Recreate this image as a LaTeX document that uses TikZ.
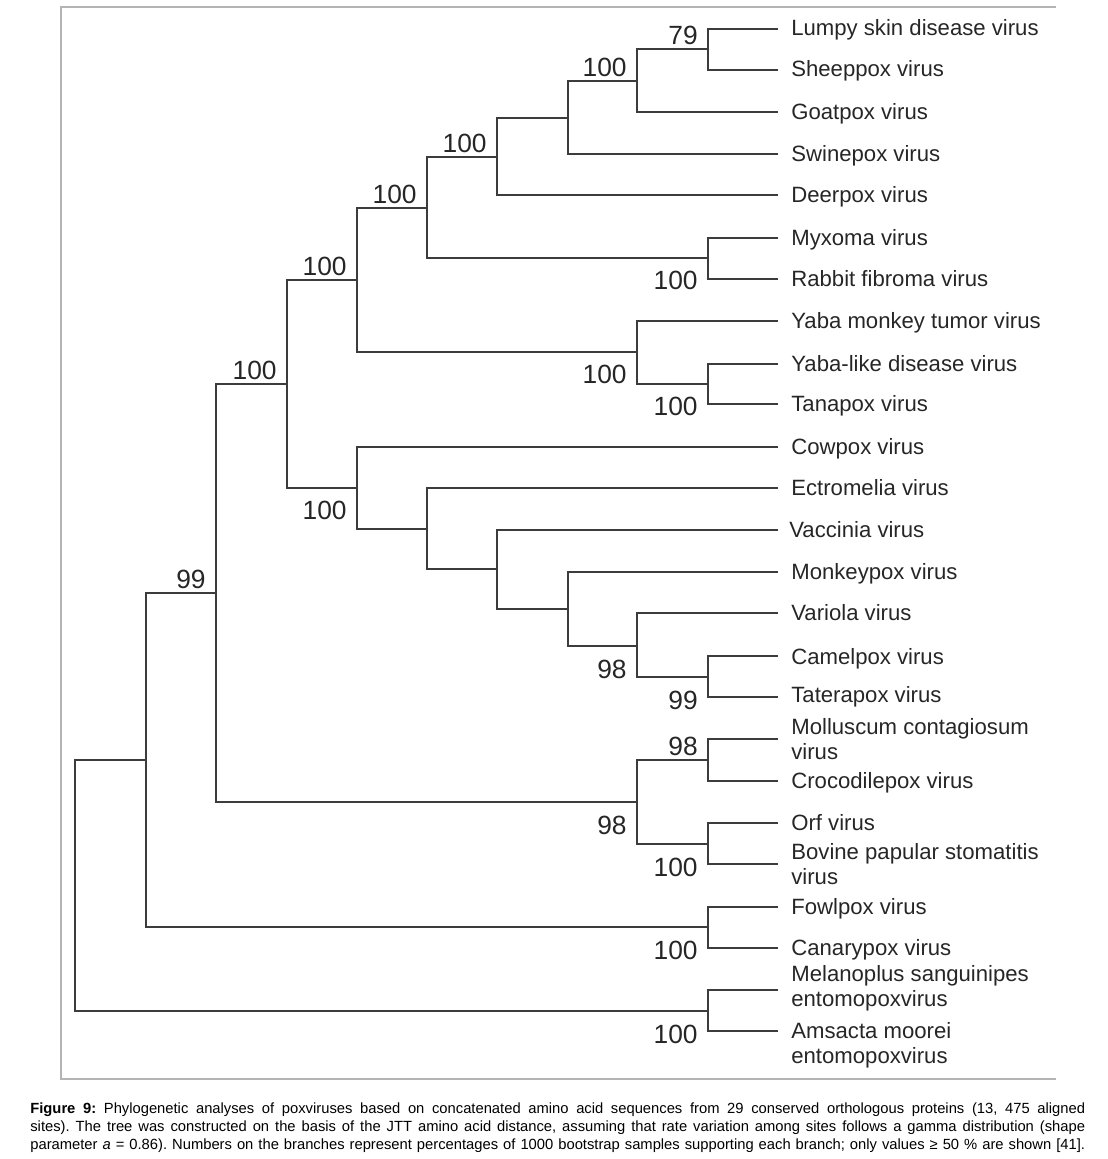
\documentclass[tikz,border=0pt]{standalone}
\usepackage{fontspec}
\setmainfont{Liberation Sans}
\usetikzlibrary{positioning}
\usepackage{xcolor}

\definecolor{branchgray}{HTML}{3C3C3C}
\definecolor{labelgray}{HTML}{262626}
\definecolor{framegray}{HTML}{B4B4B4}

\tikzset{
	branch/.style={draw=branchgray, line width=1.1pt},
	leaf/.style={anchor=base west, inner sep=0pt, text=labelgray, align=left,
		font=\fontsize{12.6}{14.2}\selectfont},
	boot/.style={inner sep=0pt, text=labelgray, font=\fontsize{15}{15}\selectfont},
	bootup/.style={boot, anchor=base east, xshift=-0.2cm, yshift=0.09cm},
	bootdown/.style={boot, anchor=base east, xshift=-0.2cm, yshift=-0.64cm},
	caption/.style={anchor=base west, inner sep=0pt, text width=21.1cm, align=justify,
		font=\fontsize{8.4}{10.25}\selectfont}
}

\begin{document}
\begin{tikzpicture}[x=0.02cm, y=-0.02cm]
	\useasboundingbox (0,0) rectangle (1108,1159);
	
	% frame
	\draw[framegray, line width=1.1pt] (1056,7) -- (61,7) -- (61,1079) -- (1056,1079);
	
	% leaf tips
	\coordinate (lsd) at (778,29);
	\coordinate (sheep) at (778,70);
	\coordinate (goat) at (778,112);
	\coordinate (swine) at (778,154);
	\coordinate (deer) at (778,195);
	\coordinate (myx) at (778,238);
	\coordinate (rfv) at (778,279);
	\coordinate (ymt) at (778,321);
	\coordinate (yld) at (778,364);
	\coordinate (tana) at (778,404);
	\coordinate (cow) at (778,447);
	\coordinate (ectro) at (778,488);
	\coordinate (vacc) at (778,530);
	\coordinate (monk) at (778,572);
	\coordinate (vario) at (778,613);
	\coordinate (camel) at (778,656);
	\coordinate (tatera) at (778,697);
	\coordinate (mollus) at (778,739);
	\coordinate (croco) at (778,781);
	\coordinate (orf) at (778,823);
	\coordinate (bpsv) at (778,864);
	\coordinate (fowl) at (778,907);
	\coordinate (canary) at (778,948);
	\coordinate (melano) at (778,990);
	\coordinate (amsacta) at (778,1031);
	
	% leaf names (two-line names sit on their last baseline)
	\node[leaf] (lsd-t) at (791,36) {Lumpy skin disease virus};
	\node[leaf] (sheep-t) at (791,77) {Sheeppox virus};
	\node[leaf] (goat-t) at (791,119) {Goatpox virus};
	\node[leaf] (swine-t) at (791,161) {Swinepox virus};
	\node[leaf] (deer-t) at (791,202) {Deerpox virus};
	\node[leaf] (myx-t) at (791,245) {Myxoma virus};
	\node[leaf] (rfv-t) at (791,286) {Rabbit fibroma virus};
	\node[leaf] (ymt-t) at (791,328) {Yaba monkey tumor virus};
	\node[leaf] (yld-t) at (791,371) {Yaba-like disease virus};
	\node[leaf] (tana-t) at (791,411) {Tanapox virus};
	\node[leaf] (cow-t) at (791,454) {Cowpox virus};
	\node[leaf] (ectro-t) at (791,495) {Ectromelia virus};
	\node[leaf] (vacc-t) at (789,537) {Vaccinia virus};
	\node[leaf] (monk-t) at (791,579) {Monkeypox virus};
	\node[leaf] (vario-t) at (791,620) {Variola virus};
	\node[leaf] (camel-t) at (791,664) {Camelpox virus};
	\node[leaf] (tatera-t) at (791,702) {Taterapox virus};
	\node[leaf] (mollus-t) at (791,759) {Molluscum contagiosum\\virus};
	\node[leaf] (croco-t) at (791,788) {Crocodilepox virus};
	\node[leaf] (orf-t) at (791,830) {Orf virus};
	\node[leaf] (bpsv-t) at (791,884) {Bovine papular stomatitis\\virus};
	\node[leaf] (fowl-t) at (791,914) {Fowlpox virus};
	\node[leaf] (canary-t) at (791,955) {Canarypox virus};
	\node[leaf] (melano-t) at (791,1006) {Melanoplus sanguinipes\\entomopoxvirus};
	\node[leaf] (amsacta-t) at (791,1063) {Amsacta moorei\\entomopoxvirus};
	
	% internal nodes
	\coordinate (A) at (708,49);
	\coordinate (B) at (637,81);
	\coordinate (C) at (568,118);
	\coordinate (D) at (497,157);
	\coordinate (MR) at (708,258);
	\coordinate (E) at (427,208);
	\coordinate (YT) at (708,384);
	\coordinate (Y) at (637,352);
	\coordinate (F) at (357,280);
	\coordinate (O) at (708,677);
	\coordinate (N) at (637,646);
	\coordinate (M) at (568,609);
	\coordinate (L) at (497,569);
	\coordinate (K) at (427,529);
	\coordinate (H) at (357,488);
	\coordinate (G) at (287,384);
	\coordinate (Q) at (708,760);
	\coordinate (R) at (708,844);
	\coordinate (P) at (637,802);
	\coordinate (I) at (216,593);
	\coordinate (AV) at (708,927);
	\coordinate (J) at (146,760);
	\coordinate (EN) at (708,1011);
	\coordinate (root) at (75,885);
	
	% branches
	\draw[branch] (A) |- (lsd) (A) |- (sheep);
	\draw[branch] (B) |- (A) (B) |- (goat);
	\draw[branch] (C) |- (B) (C) |- (swine);
	\draw[branch] (D) |- (C) (D) |- (deer);
	\draw[branch] (MR) |- (myx) (MR) |- (rfv);
	\draw[branch] (E) |- (D) (E) |- (MR);
	\draw[branch] (YT) |- (yld) (YT) |- (tana);
	\draw[branch] (Y) |- (ymt) (Y) |- (YT);
	\draw[branch] (F) |- (E) (F) |- (Y);
	\draw[branch] (O) |- (camel) (O) |- (tatera);
	\draw[branch] (N) |- (vario) (N) |- (O);
	\draw[branch] (M) |- (monk) (M) |- (N);
	\draw[branch] (L) |- (vacc) (L) |- (M);
	\draw[branch] (K) |- (ectro) (K) |- (L);
	\draw[branch] (H) |- (cow) (H) |- (K);
	\draw[branch] (G) |- (F) (G) |- (H);
	\draw[branch] (Q) |- (mollus) (Q) |- (croco);
	\draw[branch] (R) |- (orf) (R) |- (bpsv);
	\draw[branch] (P) |- (Q) (P) |- (R);
	\draw[branch] (I) |- (G) (I) |- (P);
	\draw[branch] (AV) |- (fowl) (AV) |- (canary);
	\draw[branch] (J) |- (I) (J) |- (AV);
	\draw[branch] (EN) |- (melano) (EN) |- (amsacta);
	\draw[branch] (root) |- (J) (root) |- (EN);
	
	% bootstrap values
	\node[bootup] (bs-A) at (A) {79};
	\node[bootup] (bs-B) at (B) {100};
	\node[bootup] (bs-D) at (D) {100};
	\node[bootup] (bs-E) at (E) {100};
	\node[bootup] (bs-F) at (F) {100};
	\node[bootup] (bs-G) at (G) {100};
	\node[bootup] (bs-I) at (I) {99};
	\node[bootup] (bs-Q) at (Q) {98};
	\node[bootdown] (bs-MR) at (MR) {100};
	\node[bootdown] (bs-Y) at (Y) {100};
	\node[bootdown] (bs-YT) at (YT) {100};
	\node[bootdown] (bs-H) at (H) {100};
	\node[bootdown] (bs-N) at (N) {98};
	\node[bootdown] (bs-O) at (O) {99};
	\node[bootdown] (bs-R) at (R) {100};
	\node[bootdown] (bs-P) at (P) {98};
	\node[bootdown] (bs-AV) at (AV) {100};
	\node[bootdown] (bs-EN) at (EN) {100};
	
	% caption
	\node[caption] (cap) at (30,1113) {\frenchspacing \textbf{Figure 9:} Phylogenetic analyses of poxviruses based on concatenated amino acid sequences from 29 conserved orthologous proteins (13, 475 aligned\linebreak sites). The tree was constructed on the basis of the JTT amino acid distance, assuming that rate variation among sites follows a gamma distribution (shape\linebreak parameter \textit{a} = 0.86). Numbers on the branches represent percentages of 1000 bootstrap samples supporting each branch; only values ≥ 50 \% are shown [41].\parfillskip=0pt\par};
	
\end{tikzpicture}
\end{document}
